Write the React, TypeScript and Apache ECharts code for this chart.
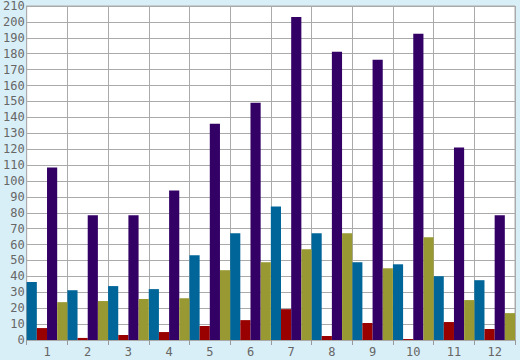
import React, { useEffect, useRef } from "react";
import * as echarts from "echarts";

const categories = ["1", "2", "3", "4", "5", "6", "7", "8", "9", "10", "11", "12"];
const tealValues = [36.4, 31.3, 33.9, 32, 53.3, 67.1, 84, 67.1, 48.9, 47.6, 40.1, 37.6];
const redValues = [7.5, 1.3, 3.1, 5, 8.8, 12.5, 19.4, 2.5, 10.7, 0.6, 11.3, 6.9];
const purpleValues = [108.5, 78.4, 78.4, 94, 136, 149.2, 203.1, 181.2, 176.2, 192.5, 121, 78.4];
const oliveValues = [23.8, 24.5, 25.7, 26.3, 43.9, 48.9, 57, 67.1, 45.1, 64.6, 25.1, 16.9];

export default function App() {
  const ref = useRef<HTMLDivElement>(null);
  useEffect(() => {
    if (!ref.current) return;
    const chart = echarts.init(ref.current, null, { renderer: "svg" });
    const font = { fontFamily: "DejaVu Sans Mono", fontSize: 12, color: "#666666" };
    const mk = (name: string, data: number[], color: string) => ({
      name,
      type: "bar",
      data,
      barGap: "0%",
      barCategoryGap: "0%",
      itemStyle: { color },
    });
    chart.setOption({
      animation: false,
      backgroundColor: "#d9eff7",
      grid: {
        left: 26,
        right: 5,
        top: 5,
        bottom: 20,
        show: true,
        backgroundColor: "#ffffff",
        borderColor: "#aaaaaa",
        borderWidth: 1,
      },
      xAxis: {
        type: "category",
        data: categories,
        axisLine: { show: true, lineStyle: { color: "#aaaaaa" } },
        axisTick: { show: true, length: 5, lineStyle: { color: "#999999" } },
        axisLabel: { ...font, margin: 6 },
        splitLine: { show: true, lineStyle: { color: "#aaaaaa", width: 1 } },
      },
      yAxis: {
        type: "value",
        min: 0,
        max: 210,
        interval: 10,
        axisLine: { show: true, lineStyle: { color: "#aaaaaa" } },
        axisTick: { show: false },
        axisLabel: { ...font, margin: 2 },
        splitLine: { show: true, lineStyle: { color: "#aaaaaa", width: 1 } },
      },
      series: [
        mk("A", tealValues, "#006699"),
        mk("B", redValues, "#990000"),
        mk("C", purpleValues, "#330066"),
        mk("D", oliveValues, "#999933"),
      ],
    });
    return () => chart.dispose();
  }, []);
  return <div ref={ref} style={{ width: 520, height: 360, position: "absolute", left: 0, top: 0 }} />;
}
